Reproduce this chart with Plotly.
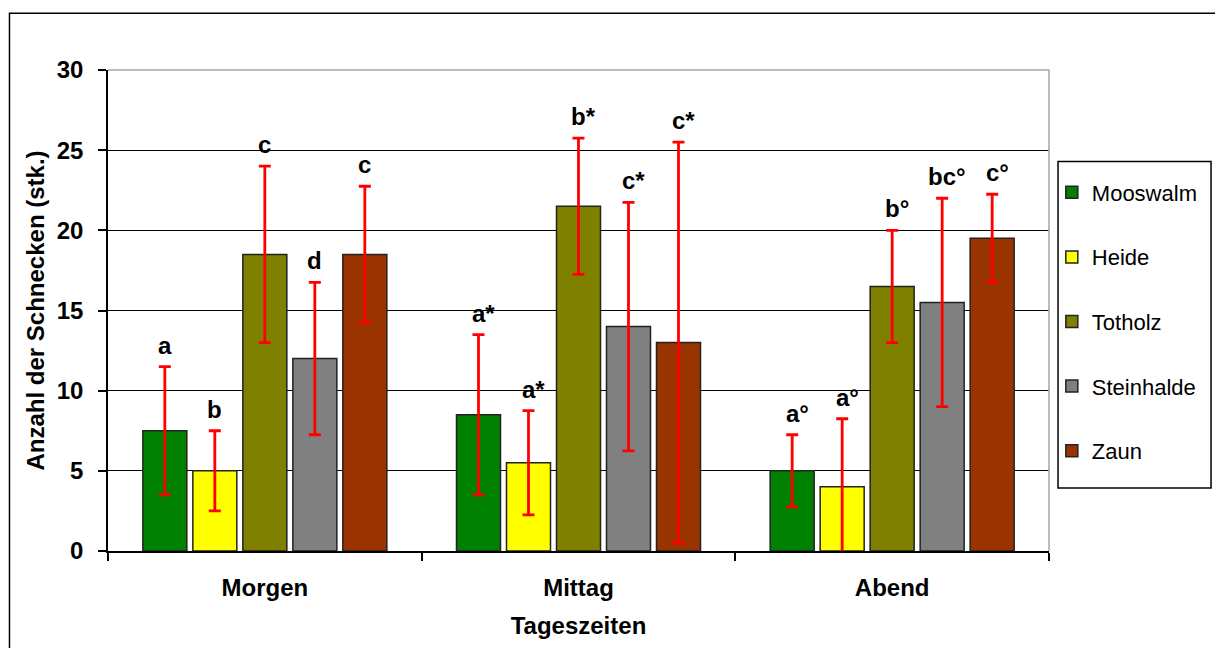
import plotly.graph_objects as go

# Tageszeiten (x categories) and Standorte (series)
tageszeiten = ["Morgen", "Mittag", "Abend"]
standorte = ["Mooswalm", "Heide", "Totholz", "Steinhalde", "Zaun"]

# Mittlere Anzahl der Schnecken je Standort (Morgen, Mittag, Abend)
mooswalm = [7.5, 8.5, 5.0]
heide = [5.0, 5.5, 4.0]
totholz = [18.5, 21.5, 16.5]
steinhalde = [12.0, 14.0, 15.5]
zaun = [18.5, 13.0, 19.5]

# Standardabweichungen
mooswalm_sd = [4.0, 5.0, 2.25]
heide_sd = [2.5, 3.25, 4.25]
totholz_sd = [5.5, 4.25, 3.5]
steinhalde_sd = [4.75, 7.75, 6.5]
zaun_sd = [4.25, 12.5, 2.75]

# Signifikanzbuchstaben über den Fehlerbalken
mooswalm_sig = ["a", "a*", "a°"]
heide_sig = ["b", "a*", "a°"]
totholz_sig = ["c", "b*", "b°"]
steinhalde_sig = ["d", "c*", "bc°"]
zaun_sig = ["c", "c*", "c°"]

werte = [mooswalm, heide, totholz, steinhalde, zaun]
fehler = [mooswalm_sd, heide_sd, totholz_sd, steinhalde_sd, zaun_sd]
buchstaben = [mooswalm_sig, heide_sig, totholz_sig, steinhalde_sig, zaun_sig]
farben = ["#008000", "#FFFF00", "#808000", "#808080", "#993300"]

FONT = "Arial, 'Liberation Sans', sans-serif"
BOLD = dict(family=FONT, size=24, color="black", weight="bold")
BARGAP = 0.203
GROUPGAP = 0.12

fig = go.Figure()
for i, name in enumerate(standorte):
    fig.add_trace(go.Bar(
        name=name,
        x=tageszeiten,
        y=werte[i],
        marker=dict(color=farben[i], line=dict(color="#222222", width=1.5)),
        error_y=dict(type="data", array=fehler[i], symmetric=True,
                     color="#FF0000", thickness=2.8, width=6),
        legendgroup=name,
    ))

# Buchstaben über den Fehlerbalken
n = len(standorte)
slot = (1 - BARGAP) / n
annotations = []
for i in range(n):
    for j in range(len(tageszeiten)):
        label = buchstaben[i][j]
        annotations.append(dict(
            x=j + (i - (n - 1) / 2) * slot,
            y=werte[i][j] + fehler[i][j],
            xref="x", yref="y",
            text=label,
            showarrow=False,
            xanchor="center", yanchor="bottom",
            xshift=5 if len(label) > 1 else 0,
            yshift=6,
            font=BOLD,
        ))

fig.update_layout(
    width=1215, height=648,
    margin=dict(l=108, r=166, t=70, b=97),
    paper_bgcolor="white", plot_bgcolor="white",
    barmode="group", bargap=BARGAP, bargroupgap=GROUPGAP,
    annotations=annotations,
    font=dict(family=FONT, color="black"),
    legend=dict(
        x=1.003, y=0.789, xanchor="left", yanchor="top",
        borderwidth=0, bgcolor="rgba(0,0,0,0)",
        font=dict(family=FONT, size=22, color="black"),
        tracegroupgap=33,
        traceorder="grouped",
        itemwidth=30,
    ),
    shapes=[
        # Rahmen des Plotbereichs (oben und rechts grau)
        dict(type="path", xref="paper", yref="paper",
             path="M 0 1 L 1 1 L 1 0", line=dict(color="#a6a6a6", width=1.5),
             layer="above"),
        # Legendenrahmen
        dict(type="rect", xref="paper", yref="paper",
             x0=1.0096, x1=1.1722, y0=0.1308, y1=0.81,
             line=dict(color="black", width=1.5), layer="below"),
        # äußerer Diagrammrahmen
        dict(type="rect", xref="paper", yref="paper",
             x0=-0.1047, x1=1.4, y0=-0.4, y1=1.118,
             line=dict(color="black", width=1.5), layer="below"),
    ],
)

fig.update_xaxes(
    showline=True, linecolor="black", linewidth=1.5,
    ticks="outside", ticklen=8, tickcolor="black", tickwidth=1.5,
    tickson="boundaries",
    tickfont=BOLD,
    ticklabelstandoff=14,
    title=dict(text="Tageszeiten", standoff=18, font=BOLD),
)
fig.update_yaxes(
    range=[0, 30], dtick=5,
    showline=True, linecolor="black", linewidth=1.5,
    showgrid=True, gridcolor="black", gridwidth=1,
    zeroline=False,
    ticks="outside", ticklen=8, tickcolor="black", tickwidth=1.5,
    tickfont=BOLD,
    ticklabelstandoff=10,
    title=dict(text="Anzahl der Schnecken (stk.)", standoff=5, font=BOLD),
)

fig.write_html("out.html")
